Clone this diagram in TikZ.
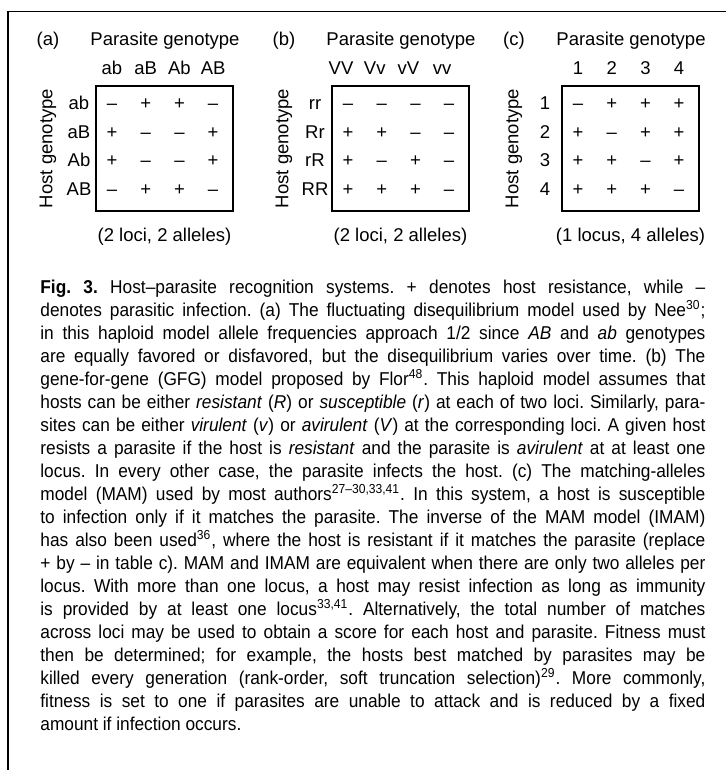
\documentclass[tikz,border=0pt]{standalone}
\usepackage{fontspec}
\setmainfont{Liberation Sans}
\newfontfamily\capfont[FakeStretch=0.93]{Liberation Sans}
% one recognition table: #1 shift, #2 letter, #3 column heads, #4 row heads,
% #5 entries, #6 note below, #7 shift of the column heads
\newcommand{\recogtable}[7]{%
  \begin{scope}[shift={(#1,0)}]
    \node[tab] (lbl#2) at (48,45.5) {(#2)};
    \node[tab] (par#2) at (165,45.5) {Parasite genotype};
    \foreach \c [count=\i] in {#3}
      \node[tab] (col#2\i) at ({78.3+33.7*\i+#7},74.5) {\c};
    \foreach \r [count=\j] in {#4}
      \node[tab] (row#2\j) at (79,{81.5+28.5*\j}) {\r};
    \node[tab,rotate=90,anchor=center] (host#2) at (48,148.5) {Host genotype};
    \node[tabbox] (box#2) at (164.5,148.5) {};
    \foreach \line [count=\j] in {#5}
      \foreach \e [count=\i] in \line
        \node[tab] (e#2\j\i) at ({78.3+33.7*\i},{81.5+28.5*\j}) {\e};
    \node[tab] (note#2) at (164.5,241.5) {#6};
  \end{scope}}
\begin{document}
\begin{tikzpicture}[x=0.5pt,y=-0.5pt,
    every node/.style={inner sep=0pt},
    tab/.style={font=\fontsize{9.25}{11}\selectfont,anchor=base},
    tabbox/.style={draw,line width=0.6pt,minimum width=68.5pt,minimum height=62.5pt},
    frame/.style={line width=0.65pt}]
  \useasboundingbox (0,0) rectangle (726,770);
  \coordinate (tr) at (726,11.5);
  \coordinate (tl) at (8,11.5);
  \coordinate (bl) at (8,770);
  \draw[frame] (tr) -- (tl) -- (bl);

  \recogtable{0}{a}{ab,aB,Ab,AB}{ab,aB,Ab,AB}
    {{–,+,+,–},{+,–,–,+},{+,–,–,+},{–,+,+,–}}{(2 loci, 2 alleles)}{0}
  \recogtable{236}{b}{VV,Vv,vV,vv}{rr,Rr,rR,RR}
    {{–,–,–,–},{+,+,–,–},{+,–,+,–},{+,+,+,–}}{(2 loci, 2 alleles)}{-7}
  \recogtable{466}{c}{1,2,3,4}{1,2,3,4}
    {{–,+,+,+},{+,–,+,+},{+,+,–,+},{+,+,+,–}}{(1 locus, 4 alleles)}{0}

  % caption
  \node[anchor=north west,text width=332.5pt,align=justify,
        font=\capfont\fontsize{9.3}{11.5}\selectfont] (caption) at (40,280)
  {\frenchspacing\textbf{Fig. 3.} Host–parasite recognition systems. + denotes host resistance, while –\linebreak
  denotes parasitic infection. (a) The fluctuating disequilibrium model used by Nee\textsuperscript{30};\linebreak
  in this haploid model allele frequencies approach 1/2 since \textit{AB} and \textit{ab} genotypes\linebreak
  are equally favored or disfavored, but the disequilibrium varies over time. (b) The\linebreak
  gene-for-gene (GFG) model proposed by Flor\textsuperscript{48}. This haploid model assumes that\linebreak
  hosts can be either \textit{resistant} (\textit{R}) or \textit{susceptible} (\textit{r}) at each of two loci. Similarly, para-\linebreak
  sites can be either \textit{virulent} (\textit{v}) or \textit{avirulent} (\textit{V}) at the corresponding loci. A given host\linebreak
  resists a parasite if the host is \textit{resistant} and the parasite is \textit{avirulent} at at least one\linebreak
  locus. In every other case, the parasite infects the host. (c) The matching-alleles\linebreak
  model (MAM) used by most authors\textsuperscript{27–30,33,41}. In this system, a host is susceptible\linebreak
  to infection only if it matches the parasite. The inverse of the MAM model (IMAM)\linebreak
  has also been used\textsuperscript{36}, where the host is resistant if it matches the parasite (replace\linebreak
  + by – in table c). MAM and IMAM are equivalent when there are only two alleles per\linebreak
  locus. With more than one locus, a host may resist infection as long as immunity\linebreak
  is provided by at least one locus\textsuperscript{33,41}. Alternatively, the total number of matches\linebreak
  across loci may be used to obtain a score for each host and parasite. Fitness must\linebreak
  then be determined; for example, the hosts best matched by parasites may be\linebreak
  killed every generation (rank-order, soft truncation selection)\textsuperscript{29}. More commonly,\linebreak
  fitness is set to one if parasites are unable to attack and is reduced by a fixed\linebreak
  amount if infection occurs.};
\end{tikzpicture}
\end{document}
